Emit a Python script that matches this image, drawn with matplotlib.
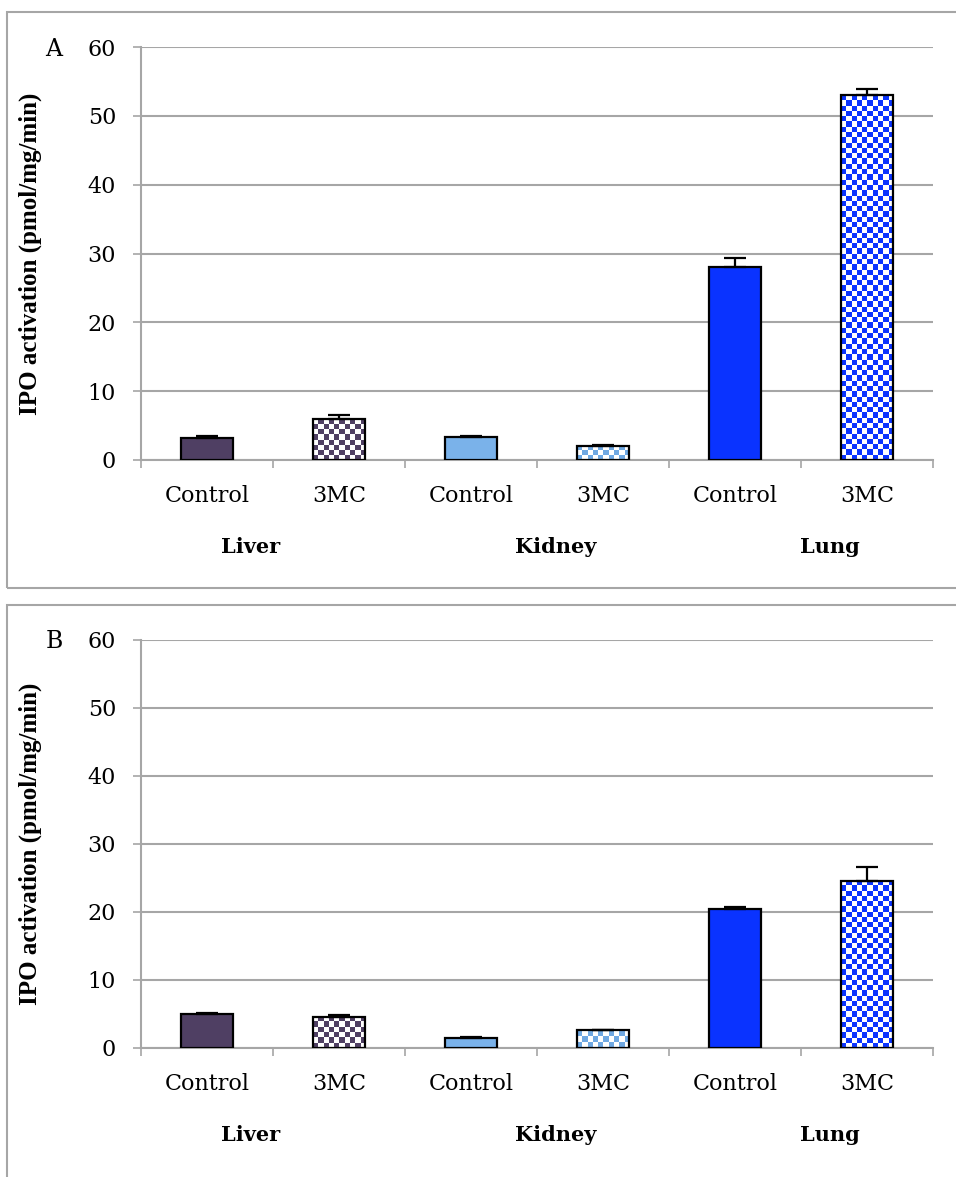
import numpy as np
import matplotlib
matplotlib.use('Agg')
import matplotlib.pyplot as plt
from matplotlib.colors import to_rgba

plt.rcParams['font.family'] = ['DejaVu Serif']

categories = ['Control', '3MC', 'Control', '3MC', 'Control', '3MC']
groups = ['Liver', 'Kidney', 'Lung']
group_x = [0.33, 2.64, 4.72]

valsA = [3.2, 5.9, 3.3, 2.1, 28.0, 53.0]
errA = [0.3, 0.6, 0.15, 0.15, 1.3, 0.9]
valsB = [5.0, 4.6, 1.5, 2.6, 20.5, 24.6]
errB = [0.15, 0.3, 0.1, 0.1, 0.2, 2.0]

colors = ['#4F3F63', '#4F3F63', '#7AB2EA', '#6FA8E2', '#0A33FF', '#0A33FF']
checkered = [False, True, False, True, False, True]

W, H = 956, 1177
gray = '#A6A6A6'


def checker(ax, x, h, color, w=0.4, cell_px=5.3):
    ncol = 10
    px_per_unit = ax.bbox.height / 60.0
    nrow = max(1, int(round(h * px_per_unit / cell_px)))
    pat = np.add.outer(np.arange(nrow), np.arange(ncol)) % 2
    img = np.ones((nrow, ncol, 4))
    img[pat == 0] = to_rgba(color)
    ax.imshow(img, extent=(x - w / 2, x + w / 2, 0, h), origin='lower',
              interpolation='nearest', aspect='auto', zorder=2)


def panel(ax, vals, errs):
    x = np.arange(len(vals))
    for i in x:
        if checkered[i]:
            checker(ax, i, vals[i], colors[i])
            ax.bar(i, vals[i], width=0.4, facecolor='none', edgecolor='black',
                   linewidth=1.6, zorder=3)
        else:
            ax.bar(i, vals[i], width=0.4, color=colors[i], edgecolor='black',
                   linewidth=1.6, zorder=3)
    ax.errorbar(x, vals, yerr=[np.zeros(len(errs)), errs], fmt='none',
                ecolor='black', elinewidth=1.6, capsize=8, capthick=1.6, zorder=4)
    ax.set_xlim(-0.5, 5.5)
    ax.set_ylim(0, 60)

    ax.set_yticks(range(0, 61, 10))
    ax.yaxis.grid(True, color=gray, linewidth=1.5)
    ax.set_axisbelow(True)
    ax.tick_params(axis='y', length=6, width=1.2, color=gray, labelsize=16, pad=12)

    ax.set_xticks(np.arange(-0.5, 6, 1))
    ax.set_xticklabels([])
    ax.set_xticks(x, minor=True)
    ax.set_xticklabels(categories, minor=True)
    ax.tick_params(axis='x', which='major', length=6, width=1.2, color=gray, direction='out')
    ax.tick_params(axis='x', which='minor', length=0, labelsize=16, pad=18)

    for s in ['top', 'right']:
        ax.spines[s].set_visible(False)
    for s in ['left', 'bottom']:
        ax.spines[s].set_color(gray)
        ax.spines[s].set_linewidth(1.5)

    for g, gx in zip(groups, group_x):
        ax.annotate(g, xy=(gx, 0), xycoords=('data', 'axes fraction'),
                    xytext=(0, -87 * 0.72), textcoords='offset points',
                    ha='center', va='center', fontsize=15, fontweight='bold')

    ax.set_ylabel('IPO activation (pmol/mg/min)', fontsize=18,
                  fontweight='bold', family='Liberation Serif')
    ax.yaxis.set_label_coords(-0.125, 0.5)


fig = plt.figure(figsize=(W / 100, H / 100), dpi=100)

# panel frames
fig.add_artist(plt.Rectangle((7 / W, 1 - 588 / H), 1.2, (588 - 12) / H,
                             transform=fig.transFigure, fill=False,
                             edgecolor=gray, linewidth=1.5))
fig.add_artist(plt.Rectangle((7 / W, -0.1), 1.2, 0.1 + 1 - 605 / H,
                             transform=fig.transFigure, fill=False,
                             edgecolor=gray, linewidth=1.5))

axA = fig.add_axes([141 / W, 1 - 460 / H, (933 - 141) / W, (460 - 47) / H])
axB = fig.add_axes([141 / W, 1 - 1048 / H, (933 - 141) / W, (1048 - 640) / H])

panel(axA, valsA, errA)
panel(axB, valsB, errB)

fig.text(54 / W, 1 - 49 / H, 'A', fontsize=17, ha='center', va='center')
fig.text(54 / W, 1 - 642 / H, 'B', fontsize=17, ha='center', va='center')

fig.savefig('out.png', dpi=100)
